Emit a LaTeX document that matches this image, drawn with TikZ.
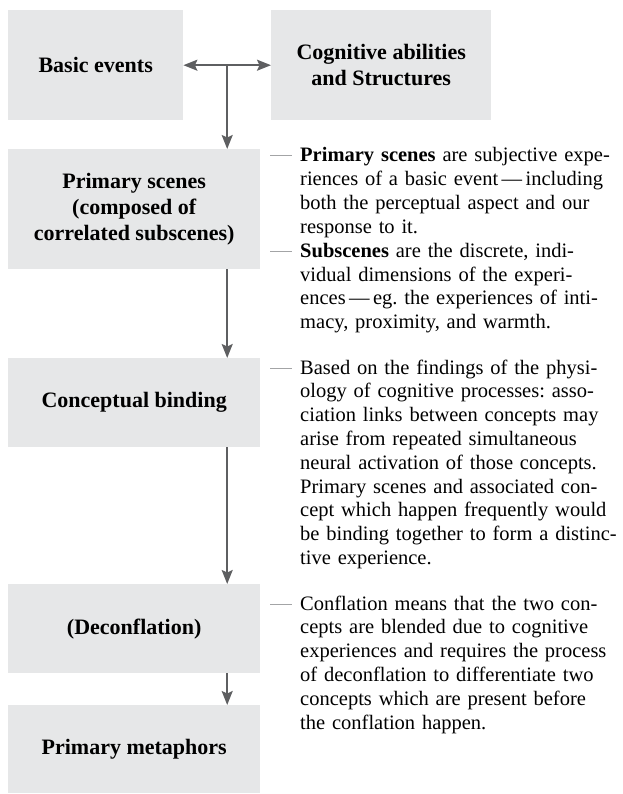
\documentclass[tikz,border=0pt]{standalone}
\usepackage{fontspec}
\setmainfont{Liberation Serif}
\usetikzlibrary{arrows.meta,calc}
\definecolor{boxgray}{HTML}{E6E7E8}
\definecolor{arrowgray}{HTML}{5E5F61}
\definecolor{dashgray}{HTML}{A3A4A6}
\frenchspacing
\tikzset{
  tip/.tip={Stealth[length=14pt,width=11pt,inset=2.5pt]},
  flowbox/.style={fill=boxgray,draw=none,inner sep=0pt,anchor=north west,align=center,
    font=\fontsize{22}{26}\selectfont\bfseries},
  flowarrow/.style={draw=arrowgray,line width=1.8pt,-tip},
  dblarrow/.style={draw=arrowgray,line width=1.8pt,tip-tip},
  note/.style={anchor=base west,inner sep=0pt,text width=330pt,align=left,
    font=\fontsize{20.5}{23.8}\selectfont\frenchspacing},
  notedash/.style={draw=dashgray,line width=1pt}
}
\begin{document}
\begin{tikzpicture}[x=1pt,y=-1pt]
\useasboundingbox (0,0) rectangle (622,794);
% boxes
\node[flowbox,minimum width=175pt,minimum height=110pt] (b1) at (8,10) {Basic events};
\node[flowbox,minimum width=220pt,minimum height=110pt] (b2) at (271,10) {Cognitive abilities\\and Structures};
\node[flowbox,minimum width=252pt,minimum height=120pt] (b3) at (8,149) {Primary scenes\\(composed of\\correlated subscenes)};
\node[flowbox,minimum width=252pt,minimum height=89pt] (b4) at (8,358) {Conceptual binding};
\node[flowbox,minimum width=252pt,minimum height=89pt] (b5) at (8,584) {(Deconflation)};
\node[flowbox,minimum width=252pt,minimum height=88pt] (b6) at (8,705) {Primary metaphors};
% connectors
\draw[dblarrow] (b1.east) -- (b2.west);
\coordinate (j) at ($(b1.east)!0.5!(b2.west)$);
\draw[flowarrow] (j) -- (b3.north -| j);
\draw[flowarrow] (b3.south -| j) -- (b4.north -| j);
\draw[flowarrow] (b4.south -| j) -- (b5.north -| j);
\draw[flowarrow] (b5.south -| j) -- (b6.north -| j);
% notes
\node[note] (n1) at (300,162) {\textbf{Primary scenes} are subjective expe-\\riences of a basic event\,—\,including\\both the perceptual aspect and our\\response to it.};
\node[note] (n2) at (300,257.2) {\textbf{Subscenes} are the discrete, indi-\\vidual dimensions of the experi-\\ences\,—\,eg. the experiences of inti-\\macy, proximity, and warmth.};
\node[note] (n3) at (300,374) {Based on the findings of the physi-\\ology of cognitive processes: asso-\\ciation links between concepts may\\arise from repeated simultaneous\\neural activation of those concepts.\\Primary scenes and associated con-\\cept which happen frequently would\\be binding together to form a distinc-\\tive experience.};
\node[note] (n4) at (300,610) {Conflation means that the two con-\\cepts are blended due to cognitive\\experiences and requires the process\\of deconflation to differentiate two\\concepts which are present before\\the conflation happen.};
% dashes
\foreach \n in {n1,n2,n3,n4}{
  \draw[notedash] ($(\n.base west)+(-30,-6)$) -- ($(\n.base west)+(-8,-6)$);
}
\end{tikzpicture}
\end{document}
